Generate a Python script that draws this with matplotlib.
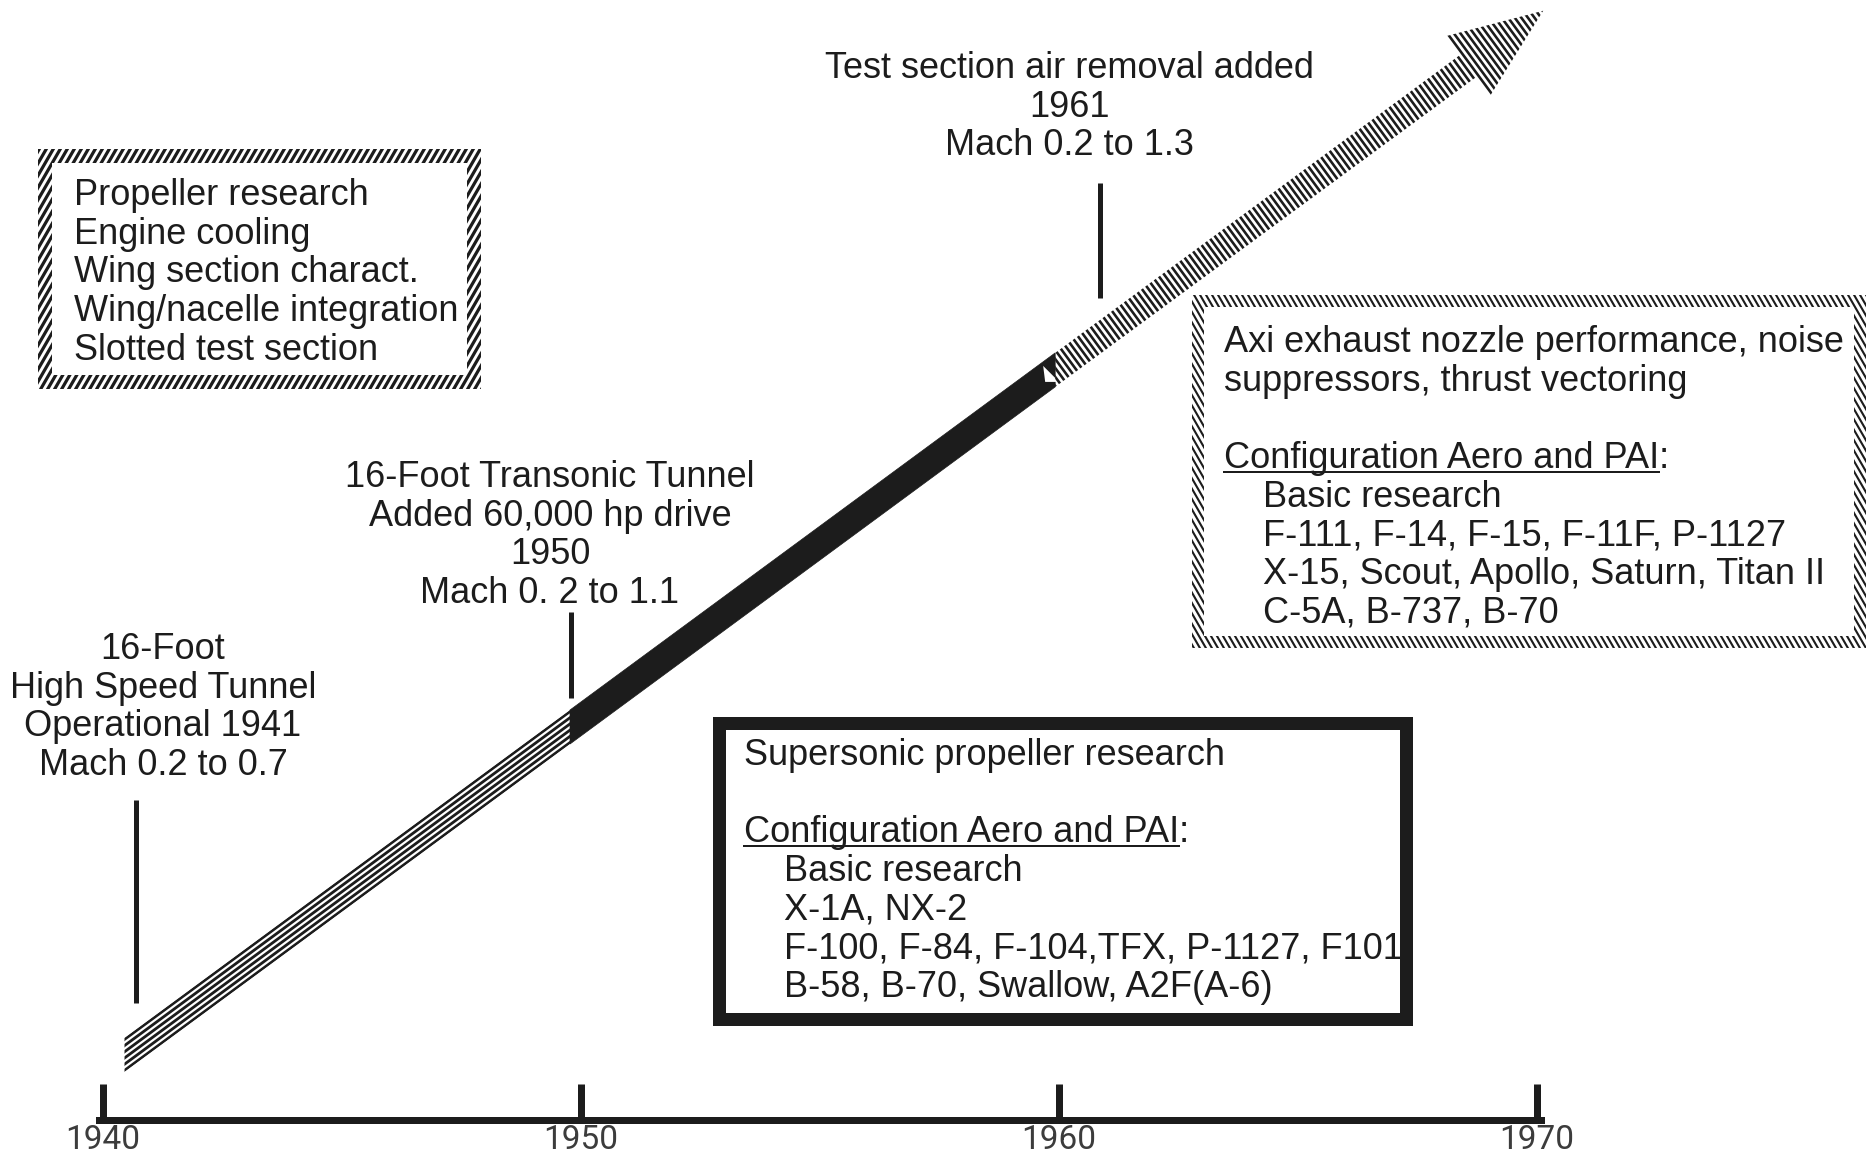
import numpy as np
import matplotlib
matplotlib.use('Agg')
import matplotlib.pyplot as plt
from matplotlib.patches import Polygon, Rectangle, PathPatch
from matplotlib.path import Path
from matplotlib.collections import LineCollection

W, H, DPI = 1871, 1159, 100
PT = 72.0 / DPI            # points per pixel
INK = '#1c1c1c'
FONT = 'Liberation Sans'
FS = 26
LS = 38.7                  # line step of the text blocks (px)

# ---- data ----
tick_years = [1940, 1950, 1960, 1970]
marker_years = [1940.7, 1949.8, 1960.85]          # where the marker bars stand
marker_span = [(800, 1003), (612, 698), (183, 298)]  # bar top / bottom (px)
marker_texts = [
    ["16-Foot", "High Speed Tunnel", "Operational 1941", "Mach 0.2 to 0.7"],
    ["16-Foot Transonic Tunnel", "Added 60,000 hp drive", "1950", "Mach 0. 2 to 1.1"],
    ["Test section air removal added", "1961", "Mach 0.2 to 1.3"],
]
marker_text_pos = [(163, 647), (550, 475), (1069, 66)]   # centre x, first line y (px)

# arrow phases (years): hatched along, solid, hatched across, tip
phase_edges = [1940.45, 1949.77, 1959.92, 1970.13]

box1_lines = ["Propeller research", "Engine cooling", "Wing section charact.",
              "Wing/nacelle integration", "Slotted test section"]
box2_head = ["Axi exhaust nozzle performance, noise", "suppressors, thrust vectoring"]
box2_items = ["Basic research", "F-111, F-14, F-15, F-11F, P-1127",
              "X-15, Scout, Apollo, Saturn, Titan II", "C-5A, B-737, B-70"]
box3_head = ["Supersonic propeller research"]
box3_items = ["Basic research", "X-1A, NX-2", "F-100, F-84, F-104,TFX, P-1127, F101",
              "B-58, B-70, Swallow, A2F(A-6)"]
config_title = "Configuration Aero and PAI"

# ---- scales: x in years, y in pixels from the top ----
PPY = 47.8
X0 = 1940 - 103 / PPY


def X(px):
    return X0 + np.asarray(px, dtype=float) / PPY


def P(year):
    return (np.asarray(year, dtype=float) - X0) * PPY


def to_data(pts):
    pts = np.asarray(pts, dtype=float)
    return np.column_stack([X(pts[:, 0]), pts[:, 1]])


fig = plt.figure(figsize=(W / DPI, H / DPI), dpi=DPI)
ax = fig.add_axes([0, 0, 1, 1])
ax.set_xlim(X0, X0 + W / PPY)
ax.set_ylim(H, 0)
ax.set_facecolor('white')
fig.patch.set_facecolor('white')
for s in ['top', 'left', 'right']:
    ax.spines[s].set_visible(False)
half_tick = 3.5 / PPY
ax.spines['bottom'].set_position(('data', 1120))
ax.spines['bottom'].set_bounds(tick_years[0] - half_tick, tick_years[-1] + half_tick)
ax.spines['bottom'].set_linewidth(7 * PT)
ax.spines['bottom'].set_color(INK)
ax.set_yticks([])
ax.set_xticks(tick_years)
ax.set_xticklabels([str(y) for y in tick_years], fontfamily=['Roboto', 'DejaVu Sans'],
                   fontweight='normal', fontsize=24, color='#3c3c3c')
ax.tick_params(axis='x', direction='in', length=36 * PT, width=7 * PT, color=INK, pad=3)

# ---- marker bars and their labels ----
ax.vlines(marker_years, [a for a, b in marker_span], [b for a, b in marker_span],
          colors=INK, linewidth=5 * PT)
for lines, (cx, y0) in zip(marker_texts, marker_text_pos):
    for i, t in enumerate(lines):
        ax.text(X(cx), y0 + i * LS + 12, t, ha='center', va='baseline',
                fontsize=FS, family=FONT, color=INK)

# ---- the arrow ----
slope = 0.736
ANG = np.arctan(slope)
d = np.array([np.cos(ANG), -np.sin(ANG)])
n = np.array([np.sin(ANG), np.cos(ANG)])
J = np.array([float(P(phase_edges[1])), 727.0])
HV = 17.0
HW = HV * np.cos(ANG)


def centre(px):
    return np.array([px, J[1] - slope * (px - J[0])])


def clip_lines(segs, clip_poly_px, lw_px):
    clip = Polygon(to_data(clip_poly_px), closed=True, facecolor='none', edgecolor='none')
    ax.add_patch(clip)
    segs_d = [to_data(s) for s in segs]
    lc = LineCollection(segs_d, colors=INK, linewidths=lw_px * PT, capstyle='butt')
    ax.add_collection(lc)
    lc.set_clip_path(clip)


xa, xb, xc, xt = [float(v) for v in P(phase_edges)]
up = np.array([0, HV])

# lower part: stripes running along the band
lower = [centre(xa) - up, centre(xb) - up, centre(xb) + up, centre(xa) + up]
segs = []
for o in np.arange(-HW + 1.2, HW, 5.0):
    segs.append([centre(xa) - 40 * d + o * n, centre(xb) + 40 * d + o * n])
clip_lines(segs, lower, 2.8)

# middle part: solid
mid = [centre(xb) - up, centre(xc) - up, centre(xc) + up, centre(xb) + up]
ax.add_patch(Polygon(to_data(mid), closed=True, facecolor=INK, edgecolor=INK, linewidth=0.5))

# upper part with head: stripes across the band
tip = centre(xt)
back = tip - 93 * d
HH = 37
upper = [centre(xc) - up, back - HW * n, back - HH * n, tip,
         back + HH * n, back + HW * n, centre(xc) + up]
segs = []
L = np.dot(tip - centre(xc), d) + 30
for s in np.arange(-20, L, 5.3):
    c = centre(xc) + s * d
    segs.append([c - 60 * n, c + 60 * n])
clip_lines(segs, upper, 2.6)

# small white notch where the solid part meets the upper hatching
notch = [centre(xc) + np.array([-12, -4]), centre(xc) + np.array([-10, 12]),
         centre(xc) + np.array([4, 12])]
ax.add_patch(Polygon(to_data(notch), closed=True, facecolor='white', edgecolor='none'))


# ---- boxes ----
def frame_path(x0, y0, x1, y1, t):
    outer = [(x0, y0), (x1, y0), (x1, y1), (x0, y1), (x0, y0)]
    inner = [(x0 + t, y0 + t), (x0 + t, y1 - t), (x1 - t, y1 - t), (x1 - t, y0 + t), (x0 + t, y0 + t)]
    verts = to_data(outer + inner)
    codes = ([Path.MOVETO] + [Path.LINETO] * 3 + [Path.CLOSEPOLY]) * 2
    return Path(verts, codes)


def hatched_frame(x0, y0, x1, y1, t, direction, spacing, lw_px):
    patch = PathPatch(frame_path(x0, y0, x1, y1, t), facecolor='none', edgecolor='none')
    ax.add_patch(patch)
    ym = (y0 + y1) / 2
    dv = np.array([0.5, -0.866 * direction])
    segs = []
    for xk in np.arange(x0 - 250, x1 + 250, spacing):
        c = np.array([xk, ym])
        segs.append(to_data([c - 300 * dv, c + 300 * dv]))
    lc = LineCollection(segs, colors=INK, linewidths=lw_px * PT, capstyle='butt')
    ax.add_collection(lc)
    lc.set_clip_path(patch)


hatched_frame(38, 149, 481, 389, 14, 1, 7.0, 3.2)
hatched_frame(1192, 295, 1866, 648, 12, -1, 6.0, 2.1)
ax.add_patch(Rectangle((X(713 + 6.5), 716 + 6.5), (1413 - 713 - 13) / PPY, 1025 - 716 - 13,
                       facecolor='none', edgecolor=INK, linewidth=13 * PT, joinstyle='miter'))


def put(x, yc, t):
    return ax.text(X(x), yc + 12, t, ha='left', va='baseline', fontsize=FS,
                   family=FONT, color=INK)


def underline(x, yc, t):
    put(x, yc, t + ":")
    probe = put(x, yc, t)
    probe.set_alpha(0)
    fig.canvas.draw()
    bb = probe.get_window_extent(renderer=fig.canvas.get_renderer())
    x_end = ax.transData.inverted().transform((bb.x1, 0))[0]
    ax.plot([X(x), x_end], [yc + 16, yc + 16], color=INK, linewidth=2 * PT)


for i, t in enumerate(box1_lines):
    put(74, 193 + i * LS, t)

for i, t in enumerate(box2_head):
    put(1224, 340 + i * LS, t)
underline(1224, 340 + 3 * LS, config_title)
for i, t in enumerate(box2_items):
    put(1263, 340 + (4 + i) * LS, t)

for i, t in enumerate(box3_head):
    put(744, 753 + i * LS, t)
underline(744, 753 + 2 * LS, config_title)
for i, t in enumerate(box3_items):
    put(784, 753 + (3 + i) * LS, t)

fig.savefig('out.png', dpi=DPI, facecolor='white')
